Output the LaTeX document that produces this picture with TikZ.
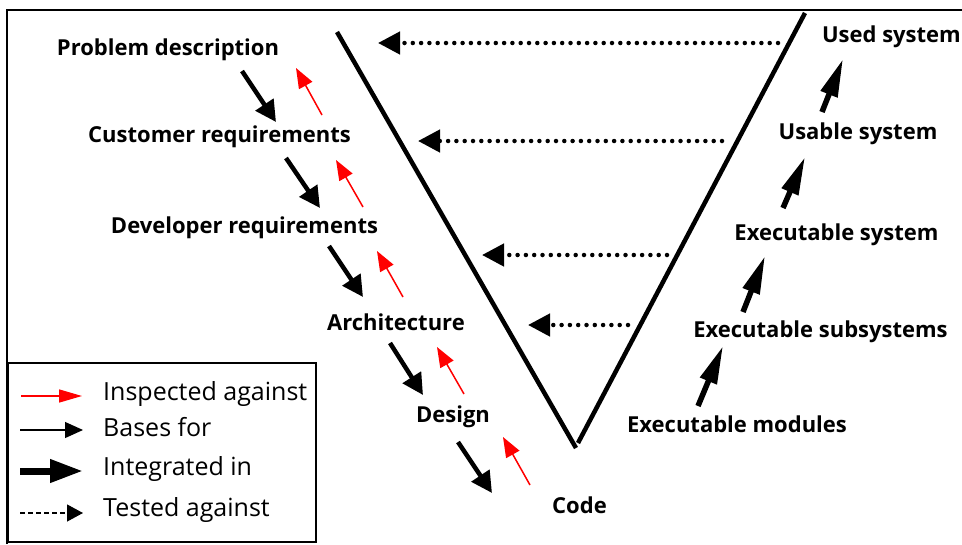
\documentclass[tikz,border=0pt]{standalone}
\usepackage{fontspec}
\setmainfont{Open Sans}
\usetikzlibrary{arrows.meta}
\tikzset{
  lbl/.style={font=\fontsize{22}{24}\selectfont\bfseries, inner sep=0pt, anchor=base},
  lgd/.style={font=\fontsize{25}{27}\selectfont, inner sep=0pt, anchor=base west},
  inspect/.style={red, line width=1.5pt, -{Triangle[length=20pt,width=15pt]}},
  integ/.style={black, line width=4.5pt, -{Triangle[length=21pt,width=21pt]}},
  integup/.style={black, line width=5.5pt, -{Triangle[length=38pt,width=17pt]}},
  tested/.style={black, line width=4.5pt, line cap=round, dash pattern=on 0pt off 8.3pt, -{Triangle[length=22pt,width=22pt]}},
  vline/.style={line width=4.5pt},
}
\begin{document}
\begin{tikzpicture}[x=1pt,y=-1pt]
\useasboundingbox (0,0) rectangle (962,544);
% frame
\draw[line width=2.2pt] (7,544) -- (7,10) -- (963,10);
% V
\coordinate (vl) at (337,32);
\coordinate (vb1) at (576,448);
\coordinate (vb2) at (578,443);
\coordinate (vr) at (805,13);
\draw[vline] (vl) -- (vb1);
\draw[vline] (vb2) -- (vr);
% left labels
\node[lbl] (pd) at (168,55) {Problem description};
\node[lbl] (cr) at (219.5,142) {Customer requirements};
\node[lbl] (dr) at (244.5,233) {Developer requirements};
\node[lbl] (ar) at (396,330) {Architecture};
\node[lbl] (de) at (453,422) {Design};
\node[lbl] (co) at (579.5,513) {Code};
% right labels
\node[lbl, anchor=base east] (us) at (961,42) {Used system};
\node[lbl] (ub) at (858,139) {Usable system};
\node[lbl] (es) at (836.5,240) {Executable system};
\node[lbl] (ess) at (820.5,337) {Executable subsystems};
\node[lbl] (em) at (737,432) {Executable modules};
% black integrate arrows (left)
\coordinate (b1a) at (242,71);  \coordinate (b1b) at (276,122);
\coordinate (b2a) at (286,158); \coordinate (b2b) at (320,208);
\coordinate (b3a) at (329,246); \coordinate (b3b) at (363,297);
\coordinate (b4a) at (390,343); \coordinate (b4b) at (423,395);
\coordinate (b5a) at (458,442); \coordinate (b5b) at (492,493);
\foreach \i in {1,...,5} \draw[integ] (b\i a) -- (b\i b);
% red inspected arrows
\coordinate (r1a) at (322,115); \coordinate (r1b) at (296,68);
\coordinate (r2a) at (363,207); \coordinate (r2b) at (336,160);
\coordinate (r3a) at (403,297); \coordinate (r3b) at (377,251);
\coordinate (r4a) at (464,394); \coordinate (r4b) at (437,347);
\coordinate (r5a) at (530,485); \coordinate (r5b) at (503,437);
\foreach \i in {1,...,5} \draw[inspect] (r\i a) -- (r\i b);
% right integrate arrows
\coordinate (u1a) at (698,406); \coordinate (u1b) at (723,346);
\coordinate (u2a) at (743,312); \coordinate (u2b) at (765,256);
\coordinate (u3a) at (783,208); \coordinate (u3b) at (805,157);
\coordinate (u4a) at (822,112); \coordinate (u4b) at (843,59);
\foreach \i in {1,...,4} \draw[integup] (u\i a) -- (u\i b);
% tested arrows
\coordinate (d1a) at (778,43);  \coordinate (d1b) at (378,43);
\coordinate (d2a) at (722,141); \coordinate (d2b) at (418,141);
\coordinate (d3a) at (667,255); \coordinate (d3b) at (482,255);
\coordinate (d4a) at (628,325); \coordinate (d4b) at (528,325);
\foreach \i in {1,...,4} \draw[tested] (d\i a) -- (d\i b);
% legend
\draw[line width=2.2pt] (8,363) rectangle (316,542);
\coordinate (l1a) at (21,396); \coordinate (l1b) at (82,396);
\coordinate (l2a) at (20,430); \coordinate (l2b) at (83,430);
\coordinate (l3a) at (20,471); \coordinate (l3b) at (83,471);
\coordinate (l4a) at (20,513); \coordinate (l4b) at (83,513);
\draw[red, line width=1.5pt, -{Triangle[length=23pt,width=13pt]}] (l1a) -- (l1b);
\draw[line width=1.2pt, -{Triangle[length=18pt,width=16pt]}] (l2a) -- (l2b);
\draw[line width=7pt, -{Triangle[length=33pt,width=22pt]}] (l3a) -- (l3b);
\draw[line width=1.2pt, dash pattern=on 5pt off 3pt, -{Triangle[length=16pt,width=17pt]}] (l4a) -- (l4b);
\node[lgd] (t1) at (103,400) {Inspected against};
\node[lgd] (t2) at (103,436) {Bases for};
\node[lgd] (t3) at (103,475) {Integrated in};
\node[lgd] (t4) at (103,516) {Tested against};
\end{tikzpicture}
\end{document}
